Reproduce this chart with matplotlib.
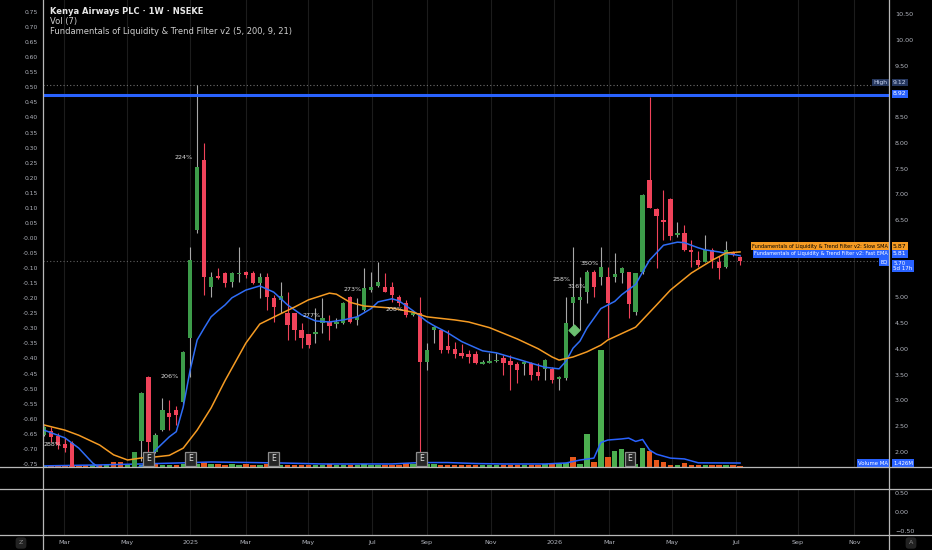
import matplotlib
matplotlib.use("Agg")
import matplotlib.pyplot as plt
import matplotlib.transforms as mtransforms
from matplotlib.lines import Line2D

plt.rcParams['font.family'] = ['DejaVu Sans']

# weekly bars, x = bar number (TradingView bar axis, suspension gap collapsed)
opens = [2.33, 2.40, 2.31, 2.15, 2.17, 1.66, 1.55, 1.50, 1.52, 1.50,
         1.56, 1.52, 1.58, 1.66, 2.21, 3.45, 1.99, 2.42, 2.75, 2.81,
         2.96, 4.21, 6.31, 7.67, 5.20, 5.41, 5.47, 5.30, 5.45, 5.49,
         5.47, 5.28, 5.39, 4.98, 4.95, 4.69, 4.69, 4.36, 4.29, 4.29,
         4.50, 4.52, 4.48, 4.50, 5.00, 4.55, 4.75, 5.14, 5.22, 5.20,
         5.20, 5.00, 4.89, 4.66, 4.69, 3.74, 4.36, 4.36, 4.05, 4.00,
         3.92, 3.90, 3.90, 3.70, 3.72, 3.76, 3.82, 3.76, 3.70, 3.70,
         3.72, 3.55, 3.61, 3.61, 3.41, 3.43, 4.89, 4.95, 5.10, 5.49,
         5.39, 5.39, 5.39, 5.47, 5.49, 4.71, 5.49, 7.27, 6.71, 6.50,
         6.91, 6.21, 6.25, 5.92, 5.72, 5.68, 5.92, 5.68, 5.59, 5.86,
         5.78]
highs = [2.50, 2.48, 2.36, 2.27, 2.20, 1.68, 1.60, 1.56, 1.58, 1.60,
         1.62, 1.60, 1.66, 2.00, 3.16, 3.47, 2.36, 3.04, 3.00, 2.88,
         3.95, 5.98, 9.12, 7.99, 5.49, 5.57, 5.49, 5.49, 5.98, 5.51,
         5.51, 5.47, 5.47, 5.04, 5.30, 5.10, 4.69, 4.50, 4.29, 4.79,
         4.99, 4.66, 4.60, 4.91, 5.02, 4.99, 5.57, 5.49, 5.68, 5.47,
         5.30, 5.04, 4.95, 4.72, 5.00, 4.11, 4.44, 4.38, 4.36, 4.13,
         4.09, 3.98, 3.96, 3.78, 3.92, 3.92, 3.88, 3.88, 3.74, 3.76,
         3.74, 3.72, 3.80, 3.65, 3.47, 5.00, 5.98, 5.39, 5.53, 5.53,
         5.98, 5.59, 5.86, 5.59, 5.49, 5.47, 7.00, 8.89, 6.74, 7.08,
         6.93, 6.46, 6.40, 6.11, 5.90, 6.21, 5.96, 5.80, 6.09, 5.90,
         5.80]
lows = [2.30, 2.19, 2.05, 1.99, 1.60, 1.50, 1.45, 1.44, 1.46, 1.45,
        1.48, 1.48, 1.52, 1.62, 1.82, 2.00, 1.97, 2.40, 2.42, 2.52,
        2.93, 3.45, 6.25, 5.04, 5.01, 5.35, 5.20, 5.20, 5.30, 5.37,
        5.26, 4.99, 4.75, 4.52, 4.69, 4.17, 4.17, 4.01, 4.01, 4.11,
        4.31, 4.17, 4.40, 4.48, 4.50, 4.46, 4.73, 5.10, 5.20, 5.10,
        4.91, 4.83, 4.62, 4.64, 1.95, 3.59, 4.11, 3.92, 3.92, 3.82,
        3.82, 3.72, 3.70, 3.70, 3.72, 3.74, 3.49, 3.20, 3.34, 3.49,
        3.39, 3.39, 3.39, 3.34, 3.20, 3.39, 4.36, 4.36, 4.89, 5.00,
        5.24, 4.21, 5.30, 5.28, 4.60, 4.66, 5.45, 6.74, 5.57, 6.11,
        6.11, 6.17, 5.90, 5.59, 5.59, 5.68, 5.57, 5.35, 5.57, 5.80,
        5.63]
closes = [2.48, 2.29, 2.13, 2.07, 1.68, 1.55, 1.50, 1.52, 1.50, 1.56,
          1.52, 1.58, 1.64, 1.99, 3.14, 2.19, 2.33, 2.81, 2.67, 2.71,
          3.93, 5.72, 7.53, 5.39, 5.39, 5.37, 5.28, 5.47, 5.48, 5.43,
          5.28, 5.39, 5.00, 4.81, 5.02, 4.46, 4.36, 4.21, 4.07, 4.33,
          4.60, 4.44, 4.52, 4.89, 4.52, 4.62, 5.18, 5.20, 5.30, 5.10,
          5.04, 4.89, 4.66, 4.70, 3.74, 3.98, 4.42, 3.98, 3.98, 3.90,
          3.86, 3.84, 3.72, 3.74, 3.76, 3.78, 3.72, 3.68, 3.59, 3.74,
          3.49, 3.47, 3.78, 3.39, 3.45, 4.50, 5.00, 5.00, 5.49, 5.20,
          5.59, 4.89, 5.45, 5.57, 4.87, 5.47, 6.99, 6.74, 6.58, 6.46,
          6.19, 6.25, 5.92, 5.88, 5.63, 5.92, 5.72, 5.57, 5.92, 5.84,
          5.70]

# volume in millions
volumes = [0.36, 0.36, 0.36, 0.54, 0.36, 0.36, 0.54, 0.72, 0.72, 0.72,
           1.80, 1.80, 1.08, 1.08, 0.72, 0.72, 1.08, 0.72, 0.72, 0.72,
           1.08, 0.72, 1.08, 1.80, 1.08, 1.08, 0.72, 1.08, 0.72, 1.08,
           0.72, 0.72, 1.08, 1.08, 0.72, 0.72, 0.72, 0.72, 0.72, 0.72,
           0.72, 1.08, 0.72, 0.72, 0.72, 0.72, 1.08, 0.72, 0.72, 0.72,
           0.72, 0.72, 1.44, 1.08, 1.44, 1.08, 1.08, 0.72, 0.72, 0.72,
           0.72, 0.72, 0.72, 0.72, 0.72, 0.72, 0.72, 0.72, 0.72, 0.72,
           0.72, 0.72, 1.08, 1.08, 1.08, 1.44, 3.60, 1.08, 11.88, 1.80,
           42.1, 3.60, 5.76, 6.48, 2.88, 1.08, 6.84, 5.76, 2.52, 1.80,
           0.72, 0.54, 1.44, 0.72, 0.54, 0.72, 0.72, 0.72, 0.72, 0.72,
           0.36]
# g = green volume bar, o = orange
vol_dir = ("goooooogog" "ooggggoggo" "gggogooggo" "ogoogoooog" "goggoggggo"
           "ooogoggooo" "ooogggooog" "oogoggoggo" "gogggggooo" "ogooogoogoo")

fast_x = [0, 2, 3, 5, 7, 8, 10, 12, 14, 15, 16, 18, 19, 20, 21, 22, 23, 24,
          25, 26, 27, 29, 31, 33, 35, 37, 39, 41, 43, 45, 47, 48, 50, 51,
          53, 55, 56, 58, 60, 63, 65, 67, 70, 72, 74, 75, 76, 77, 78, 80,
          82, 83, 85, 86, 87, 89, 91, 92, 94, 95, 97, 98, 100]
fast_y = [2.42, 2.32, 2.27, 2.07, 1.78, 1.68, 1.62, 1.62, 1.72, 1.82, 2.03,
          2.29, 2.39, 2.87, 3.59, 4.17, 4.40, 4.62, 4.74, 4.85, 4.99, 5.14,
          5.22, 5.10, 4.85, 4.66, 4.54, 4.52, 4.56, 4.62, 4.78, 4.91, 4.97,
          4.93, 4.74, 4.53, 4.45, 4.31, 4.14, 3.96, 3.92, 3.84, 3.72, 3.64,
          3.61, 3.76, 4.01, 4.15, 4.40, 4.78, 4.92, 5.05, 5.25, 5.49, 5.72,
          6.01, 6.07, 6.06, 5.96, 5.92, 5.88, 5.85, 5.81]

slow_x = [0, 3, 5, 8, 10, 12, 14, 16, 18, 20, 22, 24, 26, 29, 31, 34, 36,
          38, 41, 42, 44, 46, 48, 50, 53, 55, 57, 59, 61, 64, 66, 68, 71,
          73, 74, 76, 78, 80, 81, 85, 88, 90, 93, 96, 98, 100]
slow_y = [2.52, 2.42, 2.32, 2.13, 1.94, 1.84, 1.88, 1.90, 1.93, 2.07, 2.42,
          2.85, 3.38, 4.11, 4.48, 4.68, 4.81, 4.95, 5.08, 5.06, 4.90, 4.83,
          4.81, 4.79, 4.71, 4.62, 4.59, 4.56, 4.52, 4.41, 4.30, 4.19, 4.00,
          3.84, 3.78, 3.84, 3.94, 4.07, 4.17, 4.42, 4.85, 5.14, 5.47, 5.72,
          5.86, 5.88]

vma_x = [0, 8, 14, 20, 24, 30, 34, 40, 50, 54, 58, 62, 66, 72, 75, 77, 79,
         80, 81, 83, 84, 85, 86, 87, 88, 90, 92, 94, 100]
vma_y = [0.40, 0.75, 1.10, 1.50, 1.80, 1.60, 1.45, 1.10, 1.10, 1.60, 1.60,
         1.25, 1.10, 1.10, 1.45, 2.50, 3.20, 8.80, 9.70, 10.1, 10.4, 9.20,
         9.90, 6.10, 4.60, 3.20, 2.90, 1.50, 1.43]

date_pos = [2.9, 11.9, 21.0, 29.0, 37.9, 47.1, 55.0, 64.2, 73.3, 81.2,
            90.2, 99.4, 108.3, 116.4]
date_lab = ["Mar", "May", "2025", "Mar", "May", "Jul", "Sep", "Nov", "2026",
            "Mar", "May", "Jul", "Sep", "Nov"]

pct_x = [1.2, 18.1, 20.1, 38.4, 44.3, 50.4, 74.4, 76.6, 78.4]
pct_y = [2.15, 3.47, 7.72, 4.64, 5.16, 4.77, 5.34, 5.20, 5.65]
pct_txt = ["288%", "206%", "224%", "277%", "273%", "208%", "258%", "316%", "350%"]

earn_x = [15, 21, 33, 54.2, 84.2]
signal_x, signal_y = 76.1, 4.36

high_val = 9.12
level_val = 8.92
last_val = 5.70

# colours
BG = "black"
UP = "#3d9c4a"
DN = "#f0435a"
VUP = "#4caf50"
VDN = "#e8581c"
BLUE = "#2962ff"
ORANGE = "#f59b23"
LINEC = "#b8b8b8"
TXT = "#b2b5be"

fig = plt.figure(figsize=(9.32, 5.5), dpi=100, facecolor=BG)
L, W = 42.7 / 932, (889 - 42.7) / 932

axv = fig.add_axes([L, 83 / 550, W, 467 / 550])
axv.set_facecolor(BG)
ax = axv.twinx()
axl = axv.twinx()
ax3 = fig.add_axes([L, 15 / 550, W, 46 / 550], sharex=axv)
ax3.set_facecolor(BG)

xlo, xhi = -0.19, 121.4
axv.set_xlim(xlo, xhi)

# vertical grid
for a in (axv, ax3):
    for p in date_pos:
        a.axvline(p, color="#1c1c1c", lw=0.8, zorder=0)

# volume
n = len(closes)
idx = list(range(n))
vcols = [VUP if d == "g" else VDN for d in vol_dir]
axv.bar(idx, volumes, width=0.78, color=vcols, zorder=1)
axv.plot(vma_x, vma_y, color=BLUE, lw=1.1, zorder=2)
axv.set_ylim(0, 168)
axv.set_yticks([])

# candles
up = [c >= o for o, c in zip(opens, closes)]
wick_cols = ["#a8a8a8" if u else DN for u in up]
body_cols = [UP if u else DN for u in up]
ax.vlines(idx, lows, highs, colors=wick_cols, lw=0.8, zorder=3)
bottoms = [min(o, c) for o, c in zip(opens, closes)]
heights = [max(abs(c - o), 0.025) for o, c in zip(opens, closes)]
ax.bar(idx, heights, bottom=bottoms, width=0.62, color=body_cols, zorder=4)

ax.plot(fast_x, fast_y, color="#2f6df6", lw=1.1, zorder=5)
ax.plot(slow_x, slow_y, color=ORANGE, lw=1.1, zorder=5)

ax.axhline(level_val, color=BLUE, lw=2.2, zorder=6)
ax.axhline(high_val, color="#707070", lw=0.8, ls=(0, (1, 2)), zorder=2)
ax.axhline(last_val, color="#606060", lw=0.8, ls=(0, (1, 2)), zorder=2)

for x, y, s in zip(pct_x, pct_y, pct_txt):
    ax.text(x, y, s, ha="center", va="center", fontsize=4.6, color="#dcdcdc", zorder=7)

ax.scatter([signal_x], [signal_y], marker="D", s=30, color="#6cc070", zorder=7)

for x in earn_x:
    ax.text(x, 1.86, "E", ha="center", va="center", fontsize=5.6, color="#e0e0e0",
            zorder=8, bbox=dict(boxstyle="square,pad=0.38", fc="#262626", ec="#8c8c8c", lw=0.9))

ax.set_ylim(1.704, 10.772)
ax.set_xlim(xlo, xhi)
ticks = [2.0, 2.5, 3.0, 3.5, 4.0, 4.5, 5.0, 6.5, 7.0, 7.5, 8.0, 8.5, 9.5, 10.0, 10.5]
ax.set_yticks(ticks)
ax.set_yticklabels([f"{t:.2f}" for t in ticks])
ax.tick_params(axis="y", length=0, pad=4.3, labelsize=4.6, colors=TXT)

# left overlay scale
axl.set_ylim(-0.7601, 0.7898)
lt = [round(0.75 - 0.05 * k, 2) for k in range(31)]
axl.set_yticks(lt)
axl.set_yticklabels(["-0.00" if abs(v) < 1e-9 else f"{v:.2f}" for v in lt])
axl.yaxis.tick_left()
axl.tick_params(axis="y", length=0, pad=3.4, labelsize=4.3, colors=TXT)

for a in (axv, ax, axl, ax3):
    for s in a.spines.values():
        s.set_visible(False)
    a.tick_params(axis="x", length=0)
axv.tick_params(axis="x", labelbottom=False)

ax3.set_ylim(-0.606, 0.614)
ax3.yaxis.tick_right()
ax3.set_yticks([0.5, 0.0, -0.5])
ax3.set_yticklabels(["0.50", "0.00", "\u22120.50"])
ax3.tick_params(axis="y", length=0, pad=4.3, labelsize=4.6, colors=TXT)
ax3.set_xticks(date_pos)
ax3.set_xticklabels(date_lab)
ax3.tick_params(axis="x", length=0, pad=3.4, labelsize=4.6, colors=TXT)

# price scale tags
tr = mtransforms.blended_transform_factory(ax.transAxes, ax.transData)


def tag(y, s, fc, tc="white", x=1.0048, ha="left", size=4.4):
    ax.text(x, y, s, transform=tr, ha=ha, va="center", fontsize=size, color=tc,
            zorder=20, clip_on=False, linespacing=1.0,
            bbox=dict(boxstyle="square,pad=0.22", fc=fc, ec="none"))


tag(9.17, "High", "#26375e", "#c8d4f0", x=0.9985, ha="right")
tag(9.17, "9.12", "#26375e", "#c8d4f0")
tag(8.95, "8.92", BLUE)
tag(5.995, "Fundamentals of Liquidity & Trend Filter v2: Slow SMA", ORANGE, "black",
    x=0.9985, ha="right", size=3.6)
tag(5.995, "5.87", ORANGE, "black")
tag(5.84, "Fundamentals of Liquidity & Trend Filter v2: Fast EMA", BLUE,
    x=0.9985, ha="right", size=3.6)
tag(5.84, "5.81", BLUE)
tag(5.685, "EQ", BLUE, x=0.9985, ha="right", size=3.8)
tag(5.61, "5.70\n5d 17h", BLUE, size=4.0)
axv_tr = mtransforms.blended_transform_factory(axv.transAxes, axv.transData)
for xx, s, ha in ((0.9985, "Volume MA", "right"), (1.0048, "1.426M", "left")):
    axv.text(xx, 1.4, s, transform=axv_tr, ha=ha, va="center", fontsize=3.9,
             color="white", zorder=20, clip_on=False,
             bbox=dict(boxstyle="square,pad=0.22", fc=BLUE, ec="none"))

# pane separators and borders
for yy in (467, 489, 535):
    fig.add_artist(Line2D([0, 1], [1 - yy / 550] * 2, transform=fig.transFigure,
                          color=LINEC, lw=0.9))
for xx in (42.7, 889):
    fig.add_artist(Line2D([xx / 932] * 2, [0, 1], transform=fig.transFigure,
                          color=LINEC, lw=0.9))

# legend lines
fig.text(50 / 932, 1 - 11 / 550, "Kenya Airways PLC \u00b7 1W \u00b7 NSEKE", fontsize=6,
         fontweight="bold", color="#e6e6e6", va="center")
fig.text(50 / 932, 1 - 21.5 / 550, "Vol (7)", fontsize=6, color="#cfcfcf", va="center")
fig.text(50 / 932, 1 - 32 / 550, "Fundamentals of Liquidity & Trend Filter v2 (5, 200, 9, 21)",
         fontsize=6, color="#cfcfcf", va="center")

fig.text(21 / 932, 1 - 543 / 550, "Z", fontsize=4.6, color="#8a8a8a", ha="center", va="center",
         bbox=dict(boxstyle="round,pad=0.5", fc="#222222", ec="none"))
fig.text(911 / 932, 1 - 543 / 550, "A", fontsize=4.6, color="#8a8a8a", ha="center", va="center",
         bbox=dict(boxstyle="round,pad=0.5", fc="#222222", ec="none"))

fig.savefig("out.png", dpi=100, facecolor=BG)
